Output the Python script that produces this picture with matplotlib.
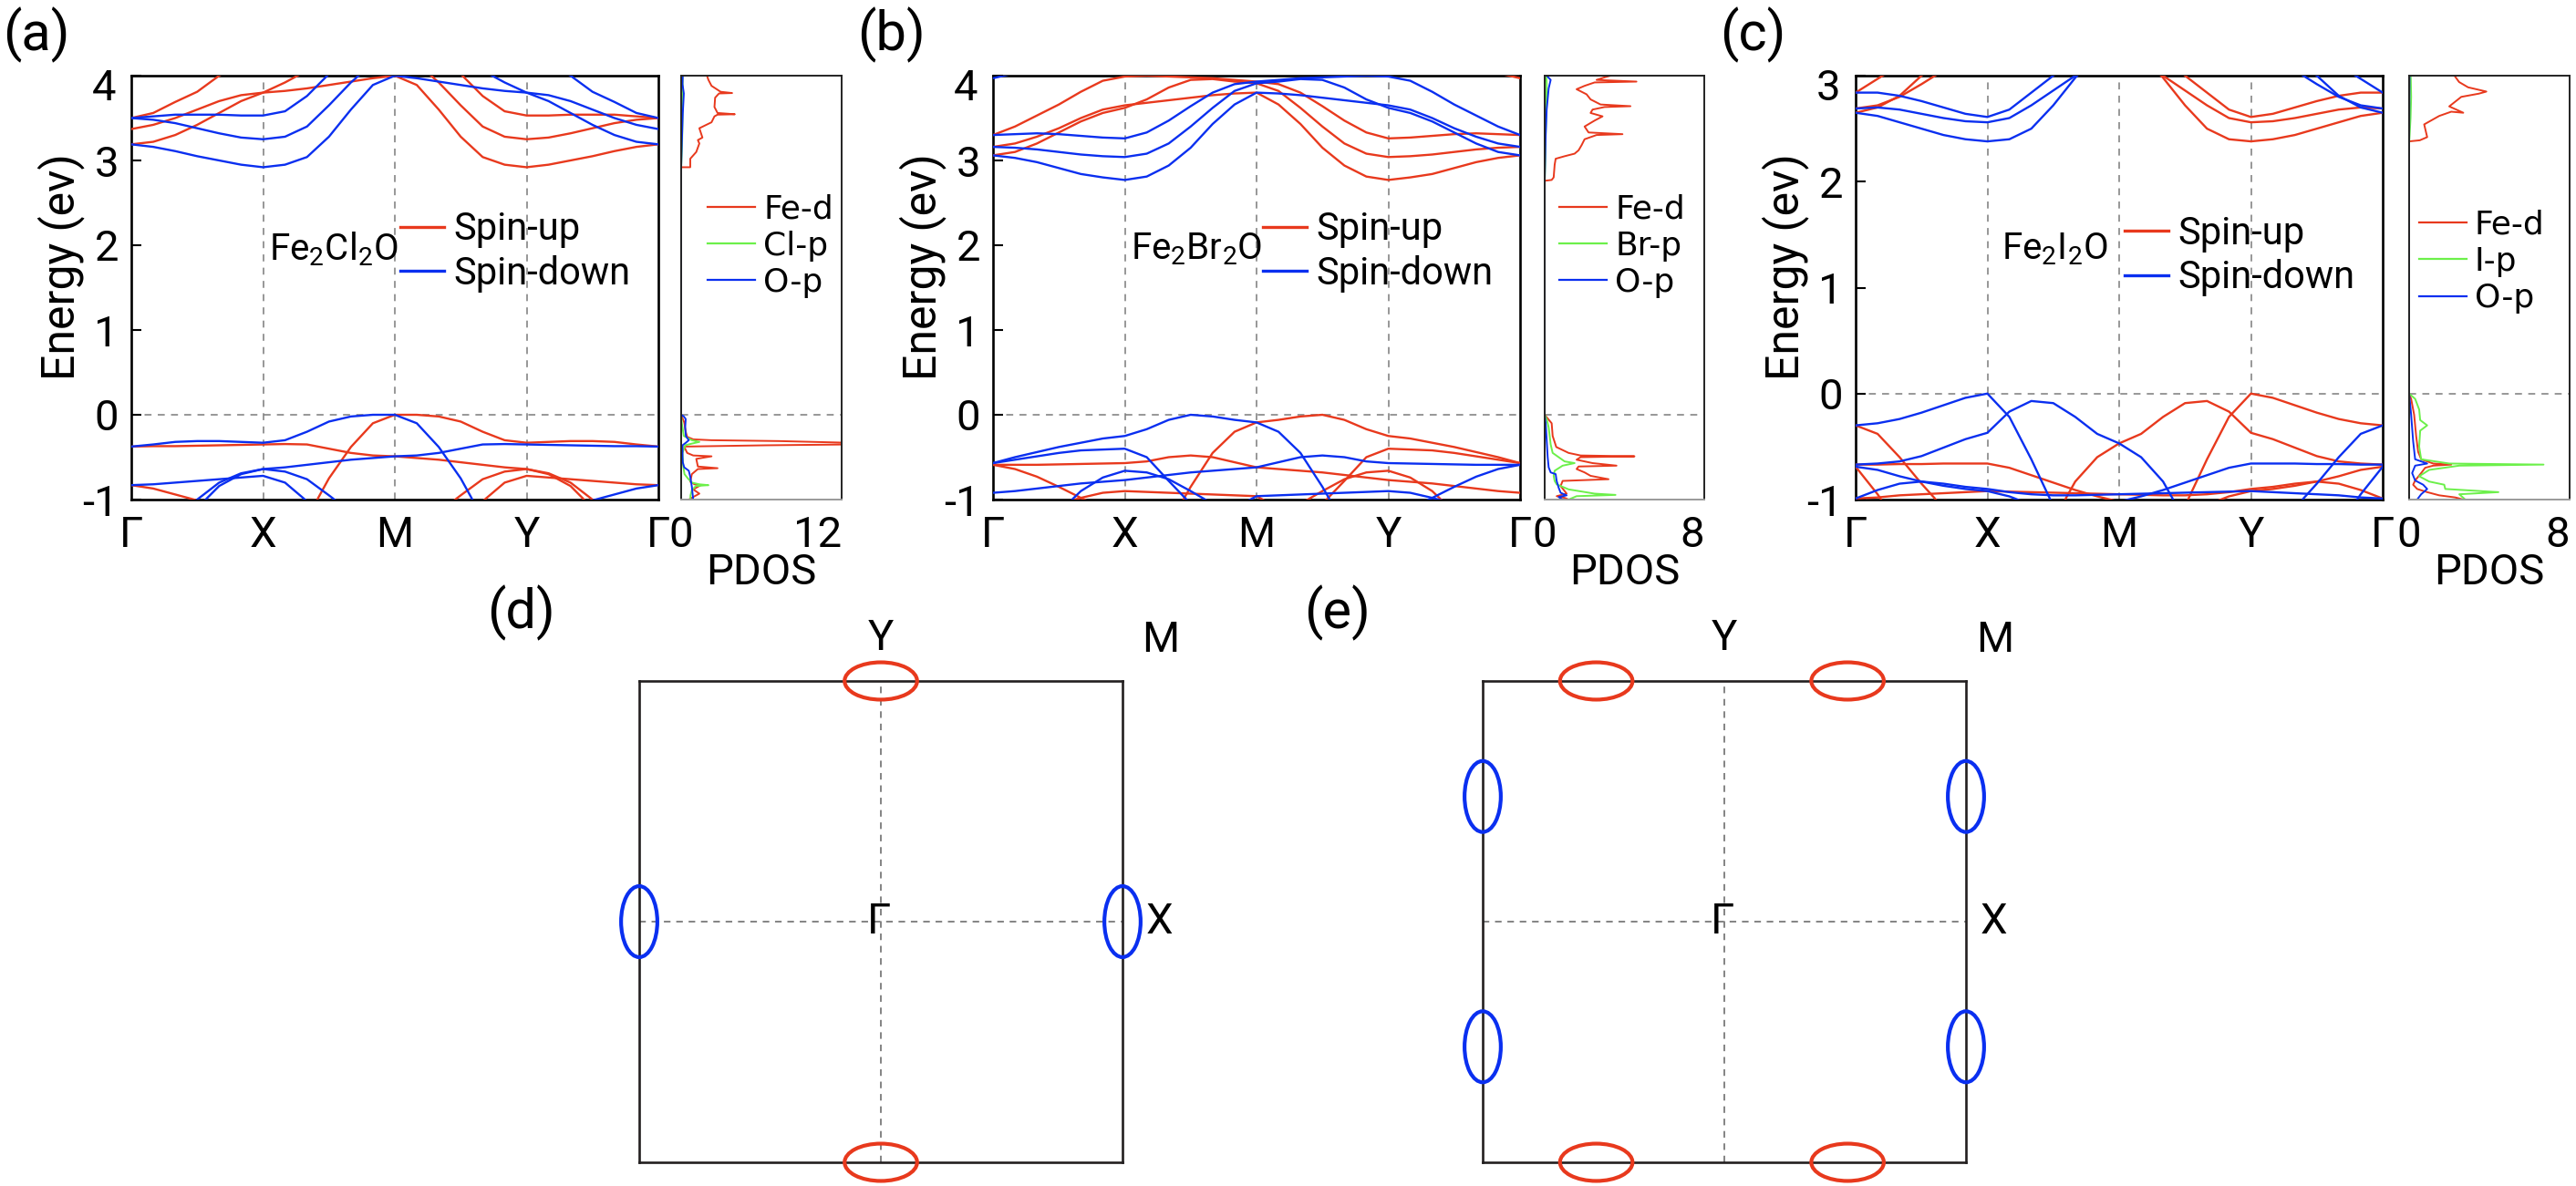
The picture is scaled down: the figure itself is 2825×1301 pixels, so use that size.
import numpy as np
import matplotlib
matplotlib.use("Agg")
import matplotlib.pyplot as plt
from matplotlib.lines import Line2D
from matplotlib.patches import Ellipse

plt.rcParams['font.family'] = ['Roboto', 'DejaVu Sans']
plt.rcParams['mathtext.default'] = 'regular'

W, H = 2825, 1301
RED = '#e8391d'
BLUE = '#0a2ff0'
GREEN = '#6cf04a'
GRAY = '#7a7a7a'

# ---------------- band data (25 k-points along G-X-M-Y-G) ----------------
k_labels = ['Γ', 'X', 'M', 'Y', 'Γ']

# (a) Fe2Cl2O
a_dn_cb1 = [3.19, 3.16, 3.11, 3.05, 3.00, 2.95, 2.92, 2.95, 3.04, 3.28, 3.60, 3.89, 4.00, 3.97, 3.93, 3.89, 3.85, 3.82, 3.80, 3.77, 3.70, 3.60, 3.50, 3.42, 3.37]
a_dn_cb2 = [3.50, 3.48, 3.44, 3.38, 3.32, 3.27, 3.25, 3.28, 3.40, 3.65, 3.92, 4.15, 4.40, 4.45, 4.35, 4.20, 4.06, 3.92, 3.80, 3.70, 3.56, 3.42, 3.30, 3.22, 3.19]
a_dn_cb3 = [3.50, 3.52, 3.54, 3.54, 3.54, 3.53, 3.53, 3.58, 3.76, 4.02, 4.25, 4.40, 4.50, 4.50, 4.50, 4.46, 4.42, 4.36, 4.28, 4.15, 4.00, 3.81, 3.69, 3.56, 3.50]
a_dn_vb1 = [-0.375, -0.35, -0.32, -0.31, -0.31, -0.32, -0.33, -0.30, -0.20, -0.08, -0.02, 0.0, 0.0, -0.10, -0.38, -0.75, -1.22, -1.55, -1.80, -2.00, -2.20, -2.40, -2.60, -2.80, -3.00]
a_dn_vb2 = [-0.83, -0.82, -0.80, -0.78, -0.76, -0.74, -0.72, -0.80, -1.02, -1.25, -1.45, -1.65, -1.85, -1.80, -1.70, -1.60, -1.50, -1.40, -1.30, -1.20, -1.10, -1.01, -0.94, -0.87, -0.83]
a_dn_vb3 = [-1.60, -1.40, -1.20, -1.00, -0.80, -0.69, -0.64, -0.62, -0.59, -0.56, -0.53, -0.51, -0.49, -0.48, -0.45, -0.40, -0.35, -0.345, -0.35, -0.355, -0.36, -0.365, -0.37, -0.37, -0.375]
a_dn_vb4 = [-1.80, -1.60, -1.40, -1.10, -0.84, -0.70, -0.64, -0.67, -0.76, -0.95, -1.15, -1.35, -1.55, -1.70, -1.80, -1.90, -2.00, -2.10, -2.20, -2.20, -2.20, -2.20, -2.20, -2.20, -2.20]

a_up_cb1 = [3.37, 3.42, 3.50, 3.60, 3.70, 3.77, 3.80, 3.82, 3.85, 3.89, 3.93, 3.97, 4.00, 3.89, 3.60, 3.28, 3.04, 2.95, 2.92, 2.95, 3.00, 3.05, 3.11, 3.16, 3.19]
a_up_cb2 = [3.19, 3.22, 3.30, 3.42, 3.56, 3.70, 3.80, 3.92, 4.06, 4.20, 4.35, 4.45, 4.40, 4.15, 3.92, 3.65, 3.40, 3.28, 3.25, 3.27, 3.32, 3.38, 3.44, 3.48, 3.50]
a_up_cb3 = [3.50, 3.56, 3.69, 3.81, 4.00, 4.15, 4.28, 4.36, 4.42, 4.46, 4.50, 4.50, 4.50, 4.40, 4.25, 4.02, 3.76, 3.58, 3.53, 3.53, 3.54, 3.54, 3.54, 3.52, 3.50]
a_up_vb1 = [-3.00, -2.80, -2.60, -2.40, -2.20, -2.00, -1.80, -1.55, -1.22, -0.75, -0.38, -0.10, 0.0, 0.0, -0.02, -0.08, -0.20, -0.30, -0.33, -0.32, -0.31, -0.31, -0.32, -0.35, -0.375]
a_up_vb2 = [-0.83, -0.87, -0.94, -1.01, -1.10, -1.20, -1.30, -1.40, -1.50, -1.60, -1.70, -1.80, -1.85, -1.65, -1.45, -1.25, -1.02, -0.80, -0.72, -0.74, -0.76, -0.78, -0.80, -0.82, -0.83]
a_up_vb3 = [-0.375, -0.37, -0.37, -0.365, -0.36, -0.355, -0.35, -0.345, -0.35, -0.40, -0.45, -0.48, -0.49, -0.51, -0.53, -0.56, -0.59, -0.62, -0.64, -0.69, -0.80, -1.00, -1.20, -1.40, -1.60]
a_up_vb4 = [-2.20, -2.20, -2.20, -2.20, -2.20, -2.20, -2.20, -2.10, -2.00, -1.90, -1.80, -1.70, -1.55, -1.35, -1.15, -0.95, -0.76, -0.67, -0.64, -0.70, -0.84, -1.10, -1.40, -1.60, -1.80]

# (b) Fe2Br2O
b_dn_cb1 = [3.06, 3.03, 2.98, 2.91, 2.84, 2.80, 2.77, 2.81, 2.94, 3.15, 3.43, 3.66, 3.80, 3.79, 3.77, 3.74, 3.71, 3.68, 3.65, 3.60, 3.50, 3.38, 3.28, 3.20, 3.16]
b_dn_cb2 = [3.16, 3.15, 3.13, 3.10, 3.07, 3.05, 3.04, 3.08, 3.20, 3.40, 3.62, 3.82, 3.91, 3.93, 3.96, 3.95, 3.86, 3.72, 3.62, 3.56, 3.46, 3.33, 3.20, 3.10, 3.06]
b_dn_cb3 = [3.30, 3.31, 3.32, 3.31, 3.29, 3.27, 3.26, 3.33, 3.47, 3.64, 3.80, 3.90, 3.93, 3.95, 3.97, 3.98, 3.99, 4.00, 3.99, 3.94, 3.81, 3.66, 3.53, 3.40, 3.30]
b_dn_cb4 = [3.97, 4.03, 4.15, 4.30, 4.40, 4.50, 4.50, 4.50, 4.50, 4.50, 4.50, 4.50, 4.50, 4.50, 4.50, 4.50, 4.50, 4.50, 4.50, 4.50, 4.50, 4.50, 4.50, 4.50, 4.50]
b_dn_vb1 = [-0.57, -0.50, -0.44, -0.38, -0.33, -0.28, -0.25, -0.17, -0.06, 0.00, -0.02, -0.06, -0.09, -0.20, -0.45, -0.85, -1.30, -1.70, -2.00, -2.20, -2.40, -2.50, -2.60, -2.70, -2.80]
b_dn_vb2 = [-0.57, -0.53, -0.49, -0.45, -0.42, -0.41, -0.40, -0.50, -0.78, -1.05, -1.40, -1.70, -2.00, -1.90, -1.80, -1.65, -1.50, -1.35, -1.20, -1.10, -0.98, -0.85, -0.73, -0.64, -0.59]
b_dn_vb3 = [-0.92, -0.90, -0.87, -0.84, -0.81, -0.79, -0.77, -0.74, -0.71, -0.68, -0.66, -0.64, -0.62, -0.56, -0.50, -0.48, -0.50, -0.55, -0.57, -0.575, -0.58, -0.585, -0.59, -0.59, -0.59]
b_dn_vb4 = [-1.80, -1.60, -1.40, -1.15, -0.90, -0.74, -0.66, -0.68, -0.76, -0.90, -1.05, -1.20, -1.35, -1.50, -1.60, -1.70, -1.80, -1.90, -2.00, -2.00, -2.00, -2.00, -2.00, -2.00, -2.00]
b_dn_vb5 = [-2.50, -2.50, -2.50, -2.50, -2.50, -2.50, -2.40, -2.20, -1.90, -1.60, -1.30, -1.10, -0.96, -0.95, -0.94, -0.93, -0.92, -0.91, -0.90, -0.92, -0.98, -1.05, -1.20, -1.40, -1.60]

b_up_cb1 = [3.16, 3.20, 3.28, 3.38, 3.50, 3.60, 3.65, 3.68, 3.71, 3.74, 3.77, 3.79, 3.80, 3.66, 3.43, 3.15, 2.94, 2.81, 2.77, 2.80, 2.84, 2.91, 2.98, 3.03, 3.06]
b_up_cb2 = [3.06, 3.10, 3.20, 3.33, 3.46, 3.56, 3.62, 3.72, 3.86, 3.95, 3.96, 3.93, 3.91, 3.82, 3.62, 3.40, 3.20, 3.08, 3.04, 3.05, 3.07, 3.10, 3.13, 3.15, 3.16]
b_up_cb3 = [3.30, 3.40, 3.53, 3.66, 3.81, 3.94, 3.99, 4.00, 3.99, 3.98, 3.97, 3.95, 3.93, 3.90, 3.80, 3.64, 3.47, 3.33, 3.26, 3.27, 3.29, 3.31, 3.32, 3.31, 3.30]
b_up_cb4 = [4.50, 4.50, 4.50, 4.50, 4.50, 4.50, 4.50, 4.50, 4.50, 4.50, 4.50, 4.50, 4.50, 4.50, 4.50, 4.50, 4.50, 4.50, 4.50, 4.50, 4.40, 4.30, 4.15, 4.03, 3.97]
b_up_vb1 = [-2.80, -2.70, -2.60, -2.50, -2.40, -2.20, -2.00, -1.70, -1.30, -0.85, -0.45, -0.20, -0.09, -0.06, -0.02, 0.00, -0.06, -0.17, -0.25, -0.28, -0.33, -0.38, -0.44, -0.50, -0.57]
b_up_vb2 = [-0.59, -0.64, -0.73, -0.85, -0.98, -1.10, -1.20, -1.35, -1.50, -1.65, -1.80, -1.90, -2.00, -1.70, -1.40, -1.05, -0.78, -0.50, -0.40, -0.41, -0.42, -0.45, -0.49, -0.53, -0.57]
b_up_vb3 = [-0.59, -0.59, -0.59, -0.585, -0.58, -0.575, -0.57, -0.55, -0.50, -0.48, -0.50, -0.56, -0.62, -0.64, -0.66, -0.68, -0.71, -0.74, -0.77, -0.79, -0.81, -0.84, -0.87, -0.90, -0.92]
b_up_vb4 = [-2.00, -2.00, -2.00, -2.00, -2.00, -2.00, -2.00, -1.90, -1.80, -1.70, -1.60, -1.50, -1.35, -1.20, -1.05, -0.90, -0.76, -0.68, -0.66, -0.74, -0.90, -1.15, -1.40, -1.60, -1.80]
b_up_vb5 = [-1.60, -1.40, -1.20, -1.05, -0.98, -0.92, -0.90, -0.91, -0.92, -0.93, -0.94, -0.95, -0.96, -1.10, -1.30, -1.60, -1.90, -2.20, -2.40, -2.50, -2.50, -2.50, -2.50, -2.50, -2.50]

# (c) Fe2I2O
c_dn_cb1 = [2.65, 2.62, 2.56, 2.50, 2.44, 2.40, 2.38, 2.40, 2.50, 2.72, 2.98, 3.20, 3.40, 3.50, 3.50, 3.50, 3.50, 3.50, 3.40, 3.30, 3.15, 3.00, 2.81, 2.70, 2.65]
c_dn_cb2 = [2.69, 2.70, 2.68, 2.64, 2.60, 2.57, 2.56, 2.60, 2.72, 2.86, 3.00, 3.15, 3.30, 3.50, 3.50, 3.50, 3.50, 3.40, 3.30, 3.20, 3.05, 2.92, 2.80, 2.72, 2.69]
c_dn_cb3 = [2.84, 2.84, 2.81, 2.76, 2.70, 2.64, 2.61, 2.68, 2.84, 3.00, 3.20, 3.35, 3.45, 3.50, 3.50, 3.50, 3.50, 3.50, 3.50, 3.50, 3.40, 3.25, 3.10, 2.97, 2.84]
c_dn_vb1 = [-0.30, -0.28, -0.24, -0.18, -0.11, -0.04, 0.00, -0.22, -0.62, -1.06, -1.40, -1.70, -2.00, -2.00, -2.00, -1.95, -1.85, -1.70, -1.50, -1.30, -1.08, -0.85, -0.60, -0.38, -0.30]
c_dn_vb2 = [-0.67, -0.66, -0.64, -0.59, -0.51, -0.43, -0.37, -0.17, -0.07, -0.09, -0.22, -0.38, -0.47, -0.60, -0.83, -1.20, -1.40, -1.60, -1.80, -2.00, -2.20, -2.40, -2.60, -2.80, -3.00]
c_dn_vb3 = [-0.69, -0.72, -0.78, -0.83, -0.87, -0.90, -0.92, -0.97, -1.05, -1.15, -1.20, -1.15, -1.02, -0.97, -0.91, -0.84, -0.77, -0.70, -0.66, -0.66, -0.66, -0.665, -0.665, -0.67, -0.67]
c_dn_vb4 = [-0.99, -0.91, -0.85, -0.83, -0.85, -0.88, -0.90, -0.93, -0.95, -0.96, -0.96, -0.955, -0.95, -0.945, -0.94, -0.935, -0.93, -0.925, -0.92, -0.93, -0.94, -0.95, -0.96, -0.98, -0.99]
c_dn_vb5 = [-2.50, -2.50, -2.50, -2.50, -2.50, -2.50, -2.50, -2.50, -2.50, -2.50, -2.50, -2.50, -2.50, -2.50, -2.50, -2.40, -2.30, -2.20, -2.10, -2.00, -1.90, -1.60, -1.25, -0.95, -0.69]

c_up_cb1 = [2.65, 2.70, 2.81, 3.00, 3.15, 3.30, 3.40, 3.50, 3.50, 3.50, 3.50, 3.50, 3.40, 3.20, 2.98, 2.72, 2.50, 2.40, 2.38, 2.40, 2.44, 2.50, 2.56, 2.62, 2.65]
c_up_cb2 = [2.69, 2.72, 2.80, 2.92, 3.05, 3.20, 3.30, 3.40, 3.50, 3.50, 3.50, 3.50, 3.30, 3.15, 3.00, 2.86, 2.72, 2.60, 2.56, 2.57, 2.60, 2.64, 2.68, 2.70, 2.69]
c_up_cb3 = [2.84, 2.97, 3.10, 3.25, 3.40, 3.50, 3.50, 3.50, 3.50, 3.50, 3.50, 3.50, 3.45, 3.35, 3.20, 3.00, 2.84, 2.68, 2.61, 2.64, 2.70, 2.76, 2.81, 2.84, 2.84]
c_up_vb1 = [-0.30, -0.38, -0.60, -0.85, -1.08, -1.30, -1.50, -1.70, -1.85, -1.95, -2.00, -2.00, -2.00, -1.70, -1.40, -1.06, -0.62, -0.22, 0.00, -0.04, -0.11, -0.18, -0.24, -0.28, -0.30]
c_up_vb2 = [-3.00, -2.80, -2.60, -2.40, -2.20, -2.00, -1.80, -1.60, -1.40, -1.20, -0.83, -0.60, -0.47, -0.38, -0.22, -0.09, -0.07, -0.17, -0.37, -0.43, -0.51, -0.59, -0.64, -0.66, -0.67]
c_up_vb3 = [-0.67, -0.67, -0.665, -0.665, -0.66, -0.66, -0.66, -0.70, -0.77, -0.84, -0.91, -0.97, -1.02, -1.15, -1.20, -1.15, -1.05, -0.97, -0.92, -0.90, -0.87, -0.83, -0.78, -0.72, -0.69]
c_up_vb4 = [-0.99, -0.98, -0.96, -0.95, -0.94, -0.93, -0.92, -0.925, -0.93, -0.935, -0.94, -0.945, -0.95, -0.955, -0.96, -0.96, -0.95, -0.93, -0.90, -0.88, -0.85, -0.83, -0.85, -0.91, -0.99]
c_up_vb5 = [-0.69, -0.95, -1.25, -1.60, -1.90, -2.00, -2.10, -2.20, -2.30, -2.40, -2.50, -2.50, -2.50, -2.50, -2.50, -2.50, -2.50, -2.50, -2.50, -2.50, -2.50, -2.50, -2.50, -2.50, -2.50]

# ---------------- PDOS data (energy, states) ----------------
pa_fe_e = [-1.00, -0.97, -0.93, -0.88, -0.83, -0.82, -0.79, -0.70, -0.64, -0.63, -0.61, -0.52, -0.49, -0.48, -0.45, -0.40, -0.375, -0.36, -0.35, -0.33, -0.31, -0.30, -0.29, -0.26, -0.20, -0.09, 0.00,
           2.92, 2.92, 3.02, 3.10, 3.20, 3.24, 3.27, 3.38, 3.45, 3.52, 3.54, 3.545, 3.56, 3.63, 3.74, 3.79, 3.795, 3.81, 3.88, 3.95, 4.00]
pa_fe_d = [0.57, 0.90, 1.36, 0.90, 1.47, 1.00, 0.68, 0.80, 1.25, 2.72, 1.25, 1.13, 2.27, 0.90, 0.45, 0.30, 0.23, 6.30, 12.5, 12.5, 7.30, 2.27, 0.90, 0.45, 0.34, 0.23, 0.00,
           0.00, 0.68, 0.68, 1.13, 1.36, 1.25, 1.59, 1.36, 2.27, 2.49, 2.72, 4.01, 2.72, 2.49, 2.54, 2.83, 3.81, 2.95, 2.27, 2.04, 1.93]
pa_cl_e = [-1.00, -0.95, -0.89, -0.84, -0.83, -0.82, -0.80, -0.75, -0.70, -0.60, -0.45, -0.36, -0.34, -0.32, -0.30, -0.25, -0.10, 0.00, 2.92, 3.20, 3.50, 3.80, 4.00]
pa_cl_d = [0.68, 0.70, 0.80, 1.10, 2.04, 1.36, 0.80, 0.50, 0.25, 0.15, 0.10, 0.30, 0.80, 1.36, 0.80, 0.20, 0.05, 0.00, 0.00, 0.07, 0.10, 0.12, 0.10]
pa_o_e = [-1.00, -0.85, -0.73, -0.66, -0.62, -0.56, -0.50, -0.36, -0.33, -0.30, -0.25, -0.15, -0.05, -0.02, 0.00, 2.92, 3.20, 3.55, 3.79, 3.90, 4.00]
pa_o_d = [0.90, 0.80, 0.68, 0.57, 0.23, 0.12, 0.10, 0.10, 0.35, 0.57, 0.35, 0.30, 0.34, 0.20, 0.00, 0.00, 0.05, 0.12, 0.20, 0.10, 0.12]

pb_fe_e = [-1.00, -0.98, -0.96, -0.93, -0.90, -0.84, -0.78, -0.76, -0.72, -0.68, -0.64, -0.61, -0.60, -0.57, -0.53, -0.50, -0.49, -0.48, -0.45, -0.38, -0.25, -0.10, 0.00,
           2.76, 2.77, 2.80, 2.95, 3.02, 3.05, 3.08, 3.12, 3.18, 3.25, 3.30, 3.31, 3.33, 3.40, 3.47, 3.52, 3.56, 3.60, 3.63, 3.64, 3.66, 3.72, 3.78, 3.84, 3.88, 3.92, 3.93, 3.95, 3.98, 4.00]
pb_fe_d = [1.20, 1.00, 0.60, 1.10, 1.00, 0.80, 0.90, 3.20, 2.30, 2.00, 1.60, 1.70, 3.60, 2.40, 1.60, 1.80, 4.50, 1.80, 1.20, 0.58, 0.40, 0.35, 0.00,
           0.00, 0.35, 0.45, 0.50, 0.55, 1.00, 1.50, 1.70, 1.85, 2.00, 2.60, 3.90, 2.20, 2.00, 2.50, 2.90, 2.30, 2.40, 3.00, 4.30, 2.80, 2.30, 2.10, 1.60, 2.00, 2.50, 4.60, 2.60, 3.00, 3.30]
pb_br_e = [-1.00, -0.96, -0.945, -0.93, -0.88, -0.82, -0.78, -0.72, -0.66, -0.60, -0.57, -0.55, -0.45, -0.35, -0.15, -0.05, 0.00, 2.76, 3.00, 3.30, 3.60, 3.90, 4.00]
pb_br_d = [1.20, 1.60, 3.55, 2.50, 1.20, 0.60, 0.50, 0.45, 0.50, 0.90, 1.50, 1.00, 0.40, 0.30, 0.20, 0.10, 0.00, 0.00, 0.03, 0.05, 0.08, 0.10, 0.08]
pb_o_e = [-1.00, -0.97, -0.95, -0.92, -0.86, -0.78, -0.70, -0.68, -0.62, -0.50, -0.30, -0.10, 0.00, 2.76, 3.30, 3.60, 3.85, 3.95, 4.00]
pb_o_d = [0.90, 0.70, 1.10, 0.80, 0.70, 0.60, 0.55, 0.30, 0.20, 0.15, 0.10, 0.05, 0.00, 0.00, 0.05, 0.10, 0.20, 0.30, 0.10]

pc_fe_e = [-1.00, -0.98, -0.96, -0.93, -0.90, -0.86, -0.82, -0.75, -0.70, -0.68, -0.67, -0.66, -0.62, -0.55, -0.40, -0.20, -0.05, 0.00,
           2.38, 2.39, 2.42, 2.54, 2.62, 2.66, 2.65, 2.71, 2.80, 2.83, 2.85, 2.89, 2.94, 3.00]
pc_fe_d = [2.70, 2.30, 1.50, 0.90, 0.40, 0.20, 0.30, 0.60, 0.80, 1.20, 2.10, 1.20, 0.60, 0.45, 0.35, 0.25, 0.10, 0.00,
           0.00, 0.53, 0.90, 0.75, 1.50, 2.10, 2.70, 2.00, 2.60, 3.47, 3.85, 2.94, 2.49, 2.26]
pc_i_e = [-1.00, -0.95, -0.93, -0.90, -0.86, -0.83, -0.78, -0.72, -0.68, -0.67, -0.66, -0.62, -0.50, -0.35, -0.30, -0.25, -0.15, -0.05, 0.00, 2.36, 2.60, 2.80, 3.00]
pc_i_d = [2.80, 2.50, 4.45, 1.80, 1.75, 1.00, 0.50, 1.00, 2.50, 6.70, 2.00, 0.60, 0.50, 0.55, 0.90, 0.55, 0.50, 0.30, 0.00, 0.00, 0.07, 0.10, 0.08]
pc_o_e = [-1.00, -0.95, -0.90, -0.86, -0.82, -0.75, -0.68, -0.66, -0.62, -0.45, -0.20, 0.00, 2.36, 3.00]
pc_o_d = [0.40, 0.60, 0.90, 0.70, 0.30, 0.15, 0.30, 0.90, 0.30, 0.20, 0.10, 0.00, 0.00, 0.02]

# ---------------- Brillouin zone pockets ----------------
d_red_x, d_red_y = [0.0, 0.0], [1.0, -1.0]
d_blue_x, d_blue_y = [-1.0, 1.0], [0.0, 0.0]
e_red_x, e_red_y = [-0.53, 0.51, -0.53, 0.51], [1.0, 1.0, -1.0, -1.0]
e_blue_x, e_blue_y = [-1.0, -1.0, 1.0, 1.0], [0.52, -0.52, 0.52, -0.52]


def rect(x0, y0, x1, y1):
    return [x0 / W, 1 - y1 / H, (x1 - x0) / W, (y1 - y0) / H]


def band_panel(fig, box, up, dn, ymax, formula, f_pos, leg_pos):
    ax = fig.add_axes(rect(*box))
    k = np.linspace(0, 4, len(up[0]))
    for b in up:
        ax.plot(k, b, color=RED, lw=1.7, zorder=3)
    for b in dn:
        ax.plot(k, b, color=BLUE, lw=1.7, zorder=3)
    for x in (1, 2, 3):
        ax.axvline(x, color=GRAY, lw=1.1, ls=(0, (5, 4.5)), zorder=1)
    ax.axhline(0, color=GRAY, lw=1.1, ls=(0, (5, 4.5)), zorder=1)
    ax.set_xlim(0, 4)
    ax.set_ylim(-1, ymax)
    ax.set_xticks(range(5))
    ax.set_xticklabels(k_labels)
    ax.tick_params(axis='x', length=0, pad=12, labelsize=34)
    ticks = list(range(-1, ymax + 1))
    ax.set_yticks(ticks)
    ax.set_yticklabels([str(t) for t in ticks[:-1]] + [''])
    ax.tick_params(axis='y', direction='in', length=8, width=1.5, labelsize=34, pad=10)
    ax.annotate(str(ymax), xy=(0, ymax), xycoords=('axes fraction', 'data'),
                xytext=(-17, -14), textcoords='offset pixels', ha='right', va='center', fontsize=34)
    for s in ax.spines.values():
        s.set_linewidth(1.9)
    ax.text(f_pos[0], f_pos[1], formula, transform=ax.transAxes, fontsize=29, ha='left', va='center')
    handles = [Line2D([], [], color=RED, lw=2.4), Line2D([], [], color=BLUE, lw=2.4)]
    ax.legend(handles, ['Spin-up', 'Spin-down'], loc='center left', bbox_to_anchor=leg_pos,
              frameon=False, fontsize=30, handlelength=1.15, handletextpad=0.25,
              labelspacing=0.17, borderpad=0, borderaxespad=0)
    fig.text((box[0] - 77) / W, 1 - 293 / H, 'Energy (ev)', rotation=90, fontsize=36,
             ha='center', va='center')
    return ax


def pdos_panel(fig, box, curves, xmax, ymax, names, leg_pos):
    ax = fig.add_axes(rect(*box))
    for (e, d, c) in curves:
        ax.plot(d, e, color=c, lw=1.4)
    ax.axhline(0, color=GRAY, lw=1.1, ls=(0, (5, 4.5)), zorder=0)
    ax.set_xlim(0, xmax)
    ax.set_ylim(-1, ymax)
    ax.set_yticks([])
    ax.set_xticks([0, xmax])
    ax.tick_params(axis='x', length=0, pad=12, labelsize=34)
    ax.get_xticklabels()[-1].set_horizontalalignment('right')
    ax.set_xlabel('PDOS', fontsize=34, labelpad=-2)
    for s in ax.spines.values():
        s.set_linewidth(1.4)
        s.set_color('#222222')
    ax.spines['bottom'].set_color('#9a9a9a')
    handles = [Line2D([], [], color=c, lw=1.6) for (_, _, c) in curves]
    ax.legend(handles, names, loc='center left', bbox_to_anchor=leg_pos, frameon=False,
              prop={'family': 'DejaVu Sans', 'size': 26}, handlelength=1.45, handletextpad=0.25,
              labelspacing=0.17, borderpad=0, borderaxespad=0)
    return ax


def bz_panel(fig, box, rx, ry, bx, by, xlab_off, mlab_off):
    ax = fig.add_axes(rect(*box))
    ax.set_xlim(-1, 1)
    ax.set_ylim(-1, 1)
    ax.set_xticks([])
    ax.set_yticks([])
    for s in ax.spines.values():
        s.set_linewidth(1.9)
        s.set_color('#231f20')
    ax.axhline(0, color=GRAY, lw=1.3, ls=(0, (4, 3.5)))
    ax.axvline(0, color=GRAY, lw=1.3, ls=(0, (4, 3.5)))
    for x, y in zip(rx, ry):
        ax.add_patch(Ellipse((x, y), 0.30, 0.155, fill=False, ec=RED, lw=3.0, clip_on=False, zorder=5))
    for x, y in zip(bx, by):
        ax.add_patch(Ellipse((x, y), 0.15, 0.295, fill=False, ec=BLUE, lw=3.0, clip_on=False, zorder=5))
    kw = dict(textcoords='offset pixels', fontsize=34, ha='center', va='center')
    ax.annotate('Y', xy=(0, 1), xytext=(0, 47), **kw)
    ax.annotate('Γ', xy=(0, 0), xytext=(-2, 0), **kw)
    ax.annotate('X', xy=(1, 0), xytext=xlab_off, **kw)
    ax.annotate('M', xy=(1, 1), xytext=mlab_off, **kw)
    return ax


fig = plt.figure(figsize=(W / 100, H / 100), dpi=100)

band_panel(fig, (144, 83, 722, 548),
           [a_up_cb1, a_up_cb2, a_up_cb3, a_up_vb1, a_up_vb2, a_up_vb3, a_up_vb4],
           [a_dn_cb1, a_dn_cb2, a_dn_cb3, a_dn_vb1, a_dn_vb2, a_dn_vb3, a_dn_vb4],
           4, r'Fe$_2$Cl$_2$O', (0.262, 0.591), (0.51, 0.585))
pdos_panel(fig, (747, 83, 923, 548),
           [(pa_fe_e, pa_fe_d, RED), (pa_cl_e, pa_cl_d, GREEN), (pa_o_e, pa_o_d, BLUE)],
           12, 4, ['Fe-d', 'Cl-p', 'O-p'], (0.165, 0.598))

band_panel(fig, (1089, 83, 1667, 548),
           [b_up_cb1, b_up_cb2, b_up_cb3, b_up_cb4, b_up_vb1, b_up_vb2, b_up_vb3, b_up_vb4, b_up_vb5],
           [b_dn_cb1, b_dn_cb2, b_dn_cb3, b_dn_cb4, b_dn_vb1, b_dn_vb2, b_dn_vb3, b_dn_vb4, b_dn_vb5],
           4, r'Fe$_2$Br$_2$O', (0.262, 0.591), (0.512, 0.585))
pdos_panel(fig, (1694, 83, 1869, 548),
           [(pb_fe_e, pb_fe_d, RED), (pb_br_e, pb_br_d, GREEN), (pb_o_e, pb_o_d, BLUE)],
           8, 4, ['Fe-d', 'Br-p', 'O-p'], (0.09, 0.598))

band_panel(fig, (2035, 83, 2613, 548),
           [c_up_cb1, c_up_cb2, c_up_cb3, c_up_vb1, c_up_vb2, c_up_vb3, c_up_vb4, c_up_vb5],
           [c_dn_cb1, c_dn_cb2, c_dn_cb3, c_dn_vb1, c_dn_vb2, c_dn_vb3, c_dn_vb4, c_dn_vb5],
           3, r'Fe$_2$I$_2$O', (0.277, 0.591), (0.51, 0.575))
pdos_panel(fig, (2642, 83, 2818, 548),
           [(pc_fe_e, pc_fe_d, RED), (pc_i_e, pc_i_d, GREEN), (pc_o_e, pc_o_d, BLUE)],
           8, 3, ['Fe-d', 'I-p', 'O-p'], (0.06, 0.561))

bz_panel(fig, (701, 747, 1231, 1275), d_red_x, d_red_y, d_blue_x, d_blue_y, (40, 0), (42, 45))
bz_panel(fig, (1626, 747, 2156, 1275), e_red_x, e_red_y, e_blue_x, e_blue_y, (30, 0), (32, 45))

for lab, x, y in [('(a)', 40, 38), ('(b)', 977, 38), ('(c)', 1922, 38), ('(d)', 572, 672), ('(e)', 1467, 672)]:
    fig.text(x / W, 1 - y / H, lab, fontsize=43, ha='center', va='center')

fig.savefig('out.png', dpi=100)
